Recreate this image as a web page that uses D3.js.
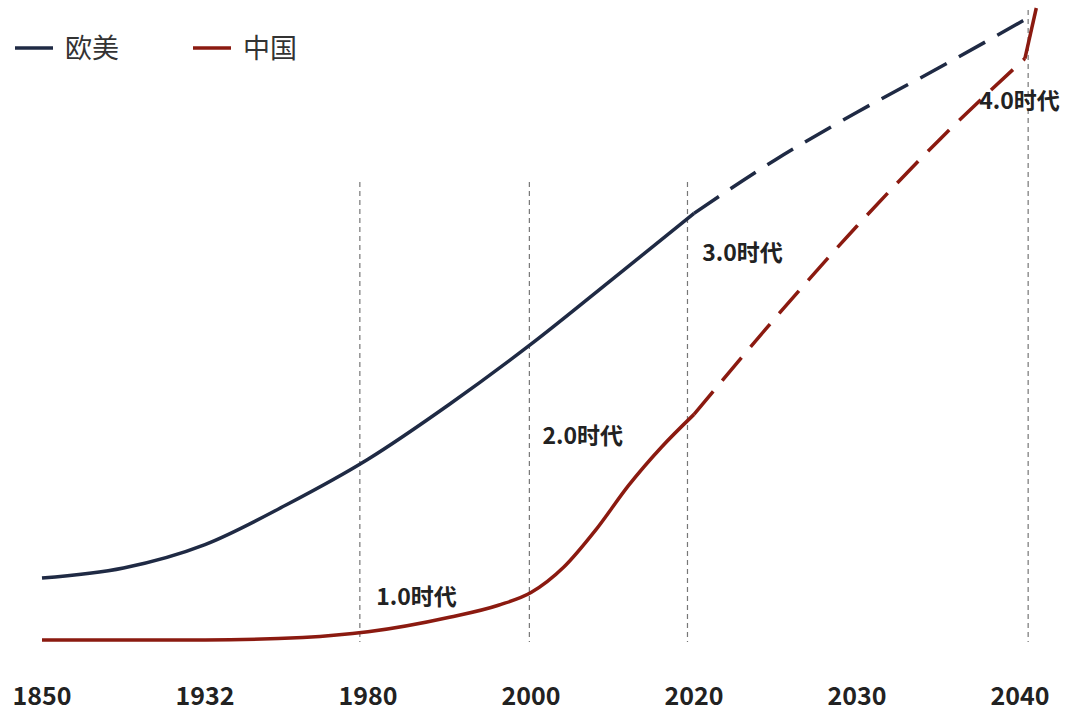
<!DOCTYPE html><html><head><meta charset="utf-8">
<script src="https://cdn.jsdelivr.net/npm/d3@7"></script>
<style>body{margin:0;background:#fff}svg{font-family:"Noto Sans CJK SC","Noto Sans",sans-serif}</style></head><body>
<svg id="c" width="1080" height="713"></svg>
<script>
const tickLabels=["1850","1932","1980","2000","2020","2030","2040"];
const westSolid=[[0,9.8],[0.5,11.4],[1,15.1],[1.5,21.4],[2,28.6],[2.5,37.3],[3,46.8],[3.5,57.1],[4,67.5]];
const westDash=[[4,67.5],[4.5,76],[5,83.5],[5.5,90.5],[6.02,98]];
const chinaSolid=[[0,0],[1,0],[1.6,0.4],[2,1.3],[2.5,3.6],[2.8,5.5],[3,7.5],[3.2,11.5],[3.4,17.5],[3.6,24.5],[3.8,30.5],[4,35.7]];
const chinaDash=[[4,35.7],[4.5,51],[5,65.5],[5.5,79],[6.03,92]];
const chinaEnd=[[6.03,92],[6.1,100]];
const vlines=[1.95,2.99,3.96,6.05];
const annos=[["1.0时代",2.05,5.5],["2.0时代",3.07,31],["3.0时代",4.05,60],["4.0时代",5.75,84]];
const legend=[["欧美","#1f2a44"],["中国","#8b1a10"]];
const svg=d3.select("#c");
const x=d3.scaleLinear().domain([0,6]).range([42,1020]);
const y=d3.scaleLinear().domain([0,100]).range([640,8]);
svg.selectAll(".v").data(vlines).join("line").attr("x1",d=>x(d)).attr("x2",d=>x(d)).attr("y1",182).attr("y2",642)
 .attr("stroke","#777").attr("stroke-dasharray","5,4").attr("stroke-width",1.2);
svg.selectAll(".v2").data([vlines[3]]).join("line").attr("x1",d=>x(d)).attr("x2",d=>x(d)).attr("y1",10).attr("y2",182).attr("stroke","#777").attr("stroke-dasharray","5,4").attr("stroke-width",1.2);
const line=d3.line().x(d=>x(d[0])).y(d=>y(d[1])).curve(d3.curveMonotoneX);
function draw(data,color,dash){svg.append("path").datum(data).attr("d",line).attr("fill","none").attr("stroke",color).attr("stroke-width",3.5).attr("stroke-dasharray",dash||null);}
draw(westSolid,"#1f2a44");draw(westDash,"#1f2a44","30,14");
draw(chinaSolid,"#8b1a10");draw(chinaDash,"#8b1a10","30,14");draw(chinaEnd,"#8b1a10");
svg.selectAll(".t").data(tickLabels).join("text").attr("x",(d,i)=>x(i)).attr("y",705).attr("text-anchor","middle")
 .attr("font-size",25).attr("font-weight","bold").attr("fill","#222").text(d=>d);
svg.selectAll(".a").data(annos).join("text").attr("x",d=>x(d[1])).attr("y",d=>y(d[2])).attr("font-size",23).attr("font-weight","bold").attr("fill","#222").text(d=>d[0]);
const lg=svg.selectAll(".lg").data(legend).join("g").attr("transform",(d,i)=>`translate(${15+i*178},48)`);
lg.append("line").attr("x1",0).attr("x2",38).attr("y1",0).attr("y2",0).attr("stroke",d=>d[1]).attr("stroke-width",3.5);
lg.append("text").attr("x",50).attr("y",10).attr("font-size",27).attr("fill","#333").text(d=>d[0]);
</script></body></html>
